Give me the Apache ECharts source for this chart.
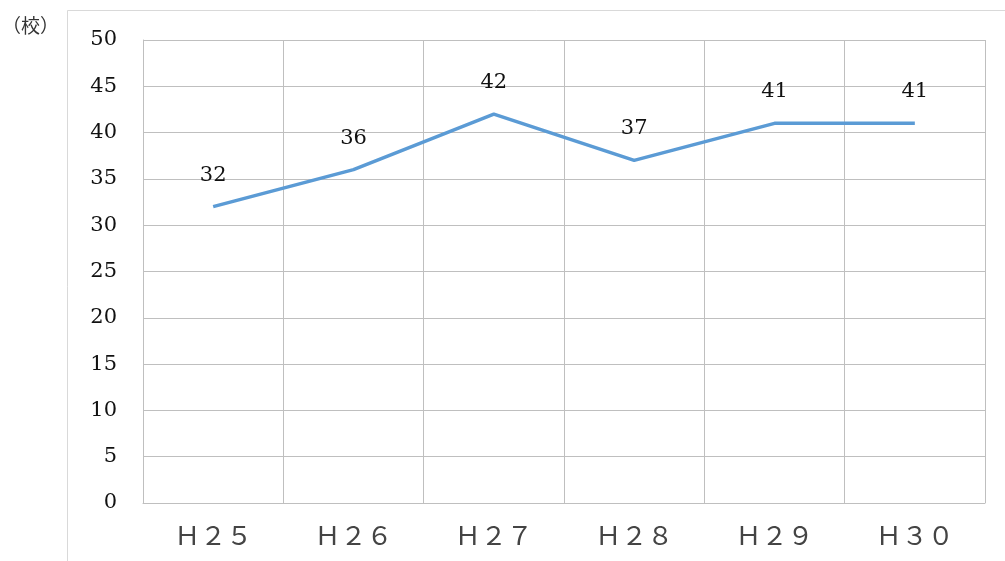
<!DOCTYPE html>
<html>
<head>
<meta charset="utf-8">
<script src="https://cdn.jsdelivr.net/npm/echarts@6/dist/echarts.min.js"></script>
<style>
  html, body { margin: 0; padding: 0; background: #fff; }
  #main { width: 1005px; height: 561px; }
</style>
</head>
<body>
<div id="main"></div>
<script>
// 年度（横軸）
var categories = ['Ｈ２５', 'Ｈ２６', 'Ｈ２７', 'Ｈ２８', 'Ｈ２９', 'Ｈ３０'];
// 学校数
var values = [32, 36, 42, 37, 41, 41];
// 縦軸の目盛り
var yMin = 0, yMax = 50, yStep = 5;

var chart = echarts.init(document.getElementById('main'));

var serif = '"DejaVu Serif", "Liberation Serif", serif';

var option = {
    animation: false,
    backgroundColor: '#fff',
    // 外枠と単位
    graphic: [
        {
            type: 'rect',
            shape: { x: 67.5, y: 10.5, width: 945, height: 560 },
            style: { fill: 'none', stroke: '#d9d9d9', lineWidth: 1 }
        },
        {
            type: 'text',
            left: 2, top: 16,
            style: { text: '（校）', fill: '#333', font: '19px "Noto Sans CJK JP"' }
        }
    ],
    grid: { left: 143, right: 20, top: 40, bottom: 58 },
    xAxis: {
        type: 'category',
        data: categories,
        boundaryGap: true,
        axisLine: { lineStyle: { color: '#bfbfbf', width: 1 } },
        axisTick: { show: false },
        axisLabel: {
            margin: 19,
            color: '#444',
            fontSize: 26,
            fontFamily: '"Noto Sans CJK JP", serif'
        },
        splitLine: { show: true, lineStyle: { color: '#bfbfbf', width: 1 } }
    },
    yAxis: {
        type: 'value',
        min: yMin, max: yMax, interval: yStep,
        axisLine: { show: true, lineStyle: { color: '#bfbfbf', width: 1 } },
        axisTick: { show: false },
        axisLabel: {
            margin: 26,
            color: '#111',
            fontSize: 21,
            fontFamily: serif
        },
        splitLine: { lineStyle: { color: '#bfbfbf', width: 1 } }
    },
    series: [{
        type: 'line',
        data: values,
        symbol: 'circle',
        symbolSize: 2,
        showSymbol: true,
        itemStyle: { color: 'rgba(91,155,213,0)', borderWidth: 0 },
        lineStyle: { color: '#5b9bd5', width: 3.5 },
        label: {
            show: true,
            position: 'top',
            distance: 20,
            color: '#111',
            fontSize: 21,
            fontFamily: serif
        }
    }]
};

chart.setOption(option);
</script>
</body>
</html>
